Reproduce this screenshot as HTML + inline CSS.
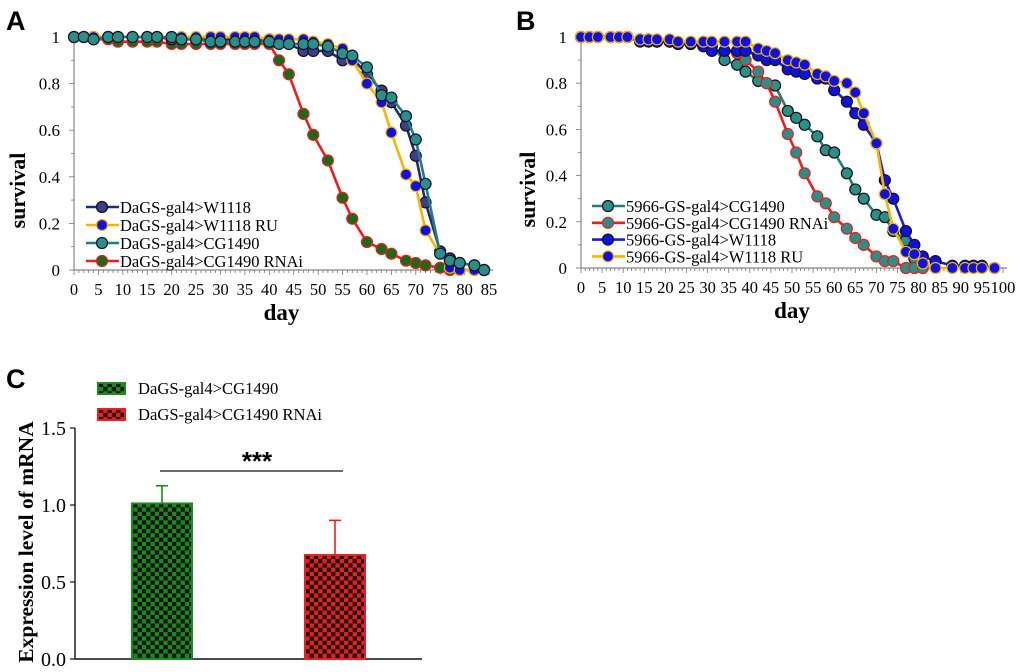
<!DOCTYPE html>
<html><head><meta charset="utf-8"><style>
body{margin:0;background:#fff;width:1020px;height:672px;overflow:hidden}
svg{display:block}
text{font-family:"Liberation Serif",serif}
</style></head><body>
<svg id="fig" width="1020" height="672" viewBox="0 0 1020 672" xmlns="http://www.w3.org/2000/svg">
<defs>
<pattern id="chkG" width="8.6" height="8.6" patternUnits="userSpaceOnUse"><rect width="8.6" height="8.6" fill="#1a8a1a"/><rect width="4.3" height="4.3" fill="#111"/><rect x="4.3" y="4.3" width="4.3" height="4.3" fill="#111"/></pattern>
<pattern id="chkR" width="8.6" height="8.6" patternUnits="userSpaceOnUse"><rect width="8.6" height="8.6" fill="#ee1c1c"/><rect width="4.3" height="4.3" fill="#111"/><rect x="4.3" y="4.3" width="4.3" height="4.3" fill="#111"/></pattern>
</defs>
<text x="6" y="30" font-weight="bold" font-size="27" style="font-family:'Liberation Sans',sans-serif">A</text>
<text x="516" y="30" font-weight="bold" font-size="27" style="font-family:'Liberation Sans',sans-serif">B</text>
<text x="6" y="388" font-weight="bold" font-size="27" style="font-family:'Liberation Sans',sans-serif">C</text>
<g id="gA"></g>
<g id="gB"></g>
<g id="gC"></g>
</svg>
<script>
// ---- Panel A data ----
const daysA=[0,2,4,7,9,12,15,17,20,22,25,28,30,33,35,37,40,42,44,47,49,52,55,57,60,63,65,68,70,72,75,77,79,82,84];
const aW1118=[1,1,1,1,1,1,1,1,0.99,0.99,0.99,0.99,0.99,0.99,0.99,0.99,0.99,0.98,0.97,0.94,0.94,0.94,0.90,0.91,0.84,0.77,0.72,0.62,0.49,0.29,0.08,0.05,0.03,0.02,0];
const aW1118RU=[1,1,1,1,1,1,1,1,1,1,1,1,1,1,1,1,0.99,0.99,0.99,0.99,0.98,0.97,0.95,0.90,0.80,0.72,0.59,0.41,0.36,0.17,0.07,0.01,0,0,0];
const aCG=[1,1,0.99,1,1,1,1,1,1,0.99,0.99,0.98,0.98,0.98,0.98,0.98,0.98,0.97,0.97,0.97,0.97,0.96,0.93,0.92,0.87,0.75,0.74,0.66,0.56,0.37,0.07,0.04,0.03,0.02,0];
const aRNAi=[1,1,0.99,0.99,0.98,0.98,0.98,0.98,0.97,0.97,0.97,0.97,0.97,0.97,0.97,0.97,0.97,0.90,0.84,0.67,0.58,0.47,0.31,0.22,0.12,0.09,0.07,0.04,0.03,0.02,0.01,0,0,0,0];
const namesA=["DaGS-gal4>W1118","DaGS-gal4>W1118 RU","DaGS-gal4>CG1490","DaGS-gal4>CG1490 RNAi"];
// ---- Panel B data ----
const daysB=[0,2,4,7,9,11,14,16,18,21,23,26,29,31,34,37,39,42,44,46,49,51,53,56,58,60,63,65,67,70,72,74,77,79,81,84,88,91,93,95,98];
const bCG=[1,1,1,1,1,1,0.99,0.99,0.98,0.98,0.97,0.97,0.96,0.96,0.90,0.88,0.85,0.81,0.80,0.79,0.68,0.65,0.62,0.57,0.51,0.50,0.41,0.34,0.30,0.23,0.22,0.16,0.12,0.04,0.01];
const bRNAi=[1,1,1,1,1,1,0.99,0.99,0.98,0.98,0.97,0.97,0.96,0.94,0.94,0.93,0.90,0.85,0.80,0.72,0.58,0.50,0.41,0.31,0.28,0.22,0.17,0.13,0.10,0.05,0.03,0.03,0,0,0];
const bW1118=[1,1,1,1,1,1,0.98,0.98,0.98,0.98,0.97,0.97,0.96,0.94,0.94,0.94,0.94,0.92,0.90,0.90,0.86,0.85,0.84,0.82,0.82,0.77,0.72,0.67,0.62,0.54,0.38,0.30,0.16,0.10,0.05,0.03,0.01,0.01,0.01,0.01,0];
const bW1118RU=[1,1,1,1,1,1,0.99,0.99,0.99,0.99,0.98,0.98,0.98,0.98,0.98,0.98,0.98,0.95,0.94,0.93,0.90,0.89,0.88,0.84,0.83,0.81,0.80,0.76,0.67,0.54,0.32,0.17,0.07,0.06,0.02,0,0,0,0,0,0];
const namesB=["5966-GS-gal4>CG1490","5966-GS-gal4>CG1490 RNAi","5966-GS-gal4>W1118","5966-GS-gal4>W1118 RU"];
// ---- Panel C data ----
const catsC=["DaGS-gal4>CG1490","DaGS-gal4>CG1490 RNAi"];
const meanC=[1.01,0.675];
const errC=[0.115,0.225];
const yTicksC=["0.0","0.5","1.0","1.5"];

const NS="http://www.w3.org/2000/svg";
function mk(p,tag,at){const e=document.createElementNS(NS,tag);for(const k in at)e.setAttribute(k,at[k]);p.appendChild(e);return e;}

function survival(g,cfg){
  const X=d=>cfg.x0+(d-0)*(cfg.x1-cfg.x0)/cfg.dmax;
  const Y=v=>cfg.y0-v*(cfg.y0-cfg.y1);
  mk(g,'line',{x1:X(0),y1:cfg.y0,x2:X(cfg.dmax)+4,y2:cfg.y0,stroke:'#888','stroke-width':1.2});
  mk(g,'line',{x1:X(0),y1:cfg.y0,x2:X(0),y2:cfg.y1,stroke:'#888','stroke-width':1.2});
  for(let d=0;d<=cfg.dmax;d++){
    const t=mk(g,'line',{x1:X(d),y1:cfg.y0,x2:X(d),y2:cfg.y0+(d%5?3:5),stroke:'#777','stroke-width':0.8});
    
    
    if(d%5===0){const l=mk(g,'text',{x:X(d),y:cfg.y0+25,'font-size':16.5,'text-anchor':'middle'});l.textContent=d;
      
      }
  }
  for(let i=0;i<=10;i++){
    const v=i/10;
    mk(g,'line',{x1:X(0)-(i%2?3:5),y1:Y(v),x2:X(0),y2:Y(v),stroke:'#777','stroke-width':0.8});
    if(i%2===0){const l=mk(g,'text',{x:X(0)-14,y:Y(v)+6,'font-size':17,'text-anchor':'end'});l.textContent=(i===0?'0':i===10?'1':v.toFixed(1));
      
      }
  }
  const yt=mk(g,'text',{x:0,y:0,'font-size':22,'font-weight':'bold','text-anchor':'middle',transform:`translate(${cfg.ytx},${(cfg.y0+cfg.y1)/2+37}) rotate(-90)`});yt.textContent='survival';
  
  
  const xt=mk(g,'text',{x:(X(0)+X(cfg.dmax))/2,y:cfg.y0+50,'font-size':23,'font-weight':'bold','text-anchor':'middle'});xt.textContent='day';
  
  
  cfg.series.forEach((s)=>{
    const sg=mk(g,'g',{});
    
    
    const pts=s.vals.map((v,i)=>X(cfg.days[i])+','+Y(v)).join(' ');
    mk(sg,'polyline',{points:pts,fill:'none',stroke:s.line,'stroke-width':2.6});
    s.vals.forEach((v,i)=>{const c=mk(sg,'circle',{cx:X(cfg.days[i]),cy:Y(v),r:5.5,fill:s.fill,stroke:s.stroke,'stroke-width':1.2});
      
      });
  });
  cfg.legend.forEach((s,i)=>{
    const y=cfg.ly+i*cfg.ldy;
    const lg=mk(g,'g',{});
    
    
    mk(lg,'line',{x1:cfg.lx,y1:y,x2:cfg.lx+33,y2:y,stroke:s.line,'stroke-width':2.6});
    mk(lg,'circle',{cx:cfg.lx+16,cy:y,r:5.5,fill:s.fill,stroke:s.stroke,'stroke-width':1.2});
    const t=mk(lg,'text',{x:cfg.lx+34,y:y+6,'font-size':16.5});t.textContent=s.name;
  });
}
const sA=[
 {key:'w1118',name:namesA[0],vals:aW1118,line:'#1f2a7a',fill:'#3d3d8f',stroke:'#111'},
 {key:'w1118-ru',name:namesA[1],vals:aW1118RU,line:'#f7b500',fill:'#1010e0',stroke:'#f7b500'},
 {key:'cg1490',name:namesA[2],vals:aCG,line:'#1f7f78',fill:'#2a8f86',stroke:'#113'},
 {key:'cg1490-rnai',name:namesA[3],vals:aRNAi,line:'#ee1c1c',fill:'#1a6a1a',stroke:'#ee1c1c'}];
survival(document.getElementById('gA'),{x0:74,x1:489,dmax:85,y0:270,y1:37,days:daysA,ytx:25,
 series:[sA[3],sA[0],sA[1],sA[2]],legend:sA,lx:86,ly:207,ldy:18});
const sB=[
 {key:'cg1490',name:namesB[0],vals:bCG,line:'#1f7f78',fill:'#2a8f86',stroke:'#111'},
 {key:'cg1490-rnai',name:namesB[1],vals:bRNAi,line:'#ee1c1c',fill:'#2a8f86',stroke:'#ee1c1c'},
 {key:'w1118',name:namesB[2],vals:bW1118,line:'#1a1ae0',fill:'#1010e0',stroke:'#111'},
 {key:'w1118-ru',name:namesB[3],vals:bW1118RU,line:'#f7b500',fill:'#1010e0',stroke:'#f7b500'}];
survival(document.getElementById('gB'),{x0:581,x1:1003,dmax:100,y0:268,y1:37,days:daysB,ytx:535,
 series:sB,legend:sB,lx:592,ly:206,ldy:16.8});

// Panel C
(function(){
  const g=document.getElementById('gC');
  const Y=v=>659-v*154;
  const bx=[132,305],bw=60,cols=['#1a8a1a','#ee1c1c'],pats=['url(#chkG)','url(#chkR)'];
  mk(g,'line',{x1:75,y1:659,x2:422,y2:659,stroke:'#111','stroke-width':1.4});
  mk(g,'line',{x1:75,y1:659,x2:75,y2:428,stroke:'#111','stroke-width':1.4});
  yTicksC.forEach((t,i)=>{const v=parseFloat(t);
    mk(g,'line',{x1:70,y1:Y(v),x2:75,y2:Y(v),stroke:'#111','stroke-width':1.2});
    const l=mk(g,'text',{x:66,y:Y(v)+7,'font-size':20,'text-anchor':'end'});l.textContent=t;
    
    });
  const yt=mk(g,'text',{x:0,y:0,'font-size':21.5,'font-weight':'bold','text-anchor':'middle',transform:'translate(33,542) rotate(-90)'});yt.textContent='Expression level of mRNA';
  
  
  meanC.forEach((m,i)=>{
    const cx=bx[i]+bw/2;
    const e=mk(g,'line',{x1:cx,y1:Y(m),x2:cx,y2:Y(m+errC[i]),stroke:cols[i],'stroke-width':1.6});
    
    
    mk(g,'line',{x1:cx-6,y1:Y(m+errC[i]),x2:cx+6,y2:Y(m+errC[i]),stroke:cols[i],'stroke-width':1.6});
    const r=mk(g,'rect',{x:bx[i],y:Y(m),width:bw,height:Y(0)-Y(m),fill:pats[i],stroke:cols[i],'stroke-width':2});
    
    
    const sw=mk(g,'rect',{x:98,y:388+i*26-5,width:27,height:11,fill:pats[i],stroke:cols[i],'stroke-width':2});
    
    
    const lt=mk(g,'text',{x:138,y:388+i*26+6,'font-size':16.6});lt.textContent=catsC[i];
    
    
  });
  const sl=mk(g,'line',{x1:160,y1:471,x2:343,y2:471,stroke:'#111','stroke-width':1.3});
  
  
  const st=mk(g,'text',{x:257,y:470,'font-size':26,'font-weight':'bold','text-anchor':'middle',style:"font-family:'Liberation Sans',sans-serif"});st.textContent='***';
  
  
})();
</script>
</body></html>
